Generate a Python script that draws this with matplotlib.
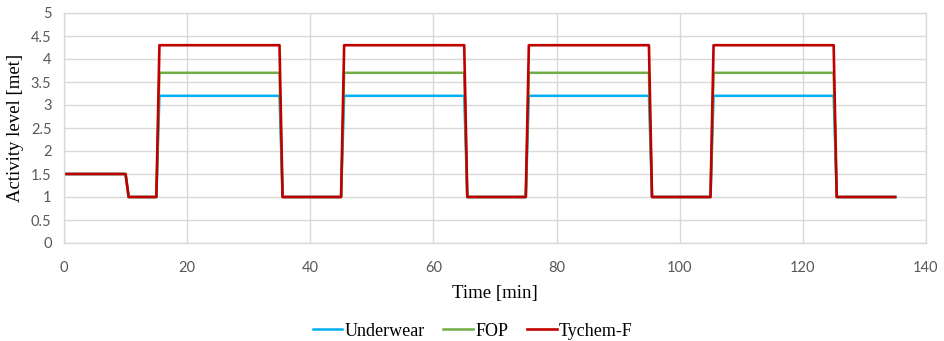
import matplotlib
matplotlib.use("Agg")
import matplotlib.pyplot as plt

# 時間 [min] と各服装の活動レベル [met]
time_min = [0, 10, 10.5, 15, 15.5, 35, 35.5, 45, 45.5, 65, 65.5, 75, 75.5,
            95, 95.5, 105, 105.5, 125, 125.5, 135]
underwear = [1.5, 1.5, 1, 1, 3.2, 3.2, 1, 1, 3.2, 3.2, 1, 1, 3.2,
             3.2, 1, 1, 3.2, 3.2, 1, 1]
fop = [1.5, 1.5, 1, 1, 3.7, 3.7, 1, 1, 3.7, 3.7, 1, 1, 3.7,
       3.7, 1, 1, 3.7, 3.7, 1, 1]
tychem = [1.5, 1.5, 1, 1, 4.3, 4.3, 1, 1, 4.3, 4.3, 1, 1, 4.3,
          4.3, 1, 1, 4.3, 4.3, 1, 1]

x_ticks = [0, 20, 40, 60, 80, 100, 120, 140]
y_ticks = [0, 0.5, 1, 1.5, 2, 2.5, 3, 3.5, 4, 4.5, 5]

serif = "Liberation Serif"
sans = "Lato"
grid_c = "#D9D9D9"
tick_c = "#595959"

fig = plt.figure(figsize=(9.45, 3.41), dpi=100)
ax = fig.add_axes([64 / 945, 98 / 341, 862 / 945, 230 / 341])

ax.plot(time_min, underwear, color="#00B0F0", lw=1.8, label="Underwear")
ax.plot(time_min, fop, color="#70AD47", lw=1.8, label="FOP")
ax.plot(time_min, tychem, color="#C00000", lw=1.9, label="Tychem-F")

ax.set_xlim(0, 140)
ax.set_ylim(0, 5)
ax.set_xticks(x_ticks)
ax.set_yticks(y_ticks)
ax.set_xticklabels([str(v) for v in x_ticks], fontfamily=sans, fontsize=10.5, color=tick_c)
ax.set_yticklabels([f"{v:g}" for v in y_ticks], fontfamily=sans, fontsize=10.5, color=tick_c)
ax.tick_params(axis="x", length=0, pad=13)
ax.tick_params(axis="y", length=0, pad=9)

ax.grid(True, color=grid_c, lw=1)
ax.set_axisbelow(True)
for s in ax.spines.values():
    s.set_color(grid_c)
    s.set_linewidth(1)

ax.set_xlabel("Time [min]", fontfamily=serif, fontsize=13.5, labelpad=7)
ax.set_ylabel("Activity level [met]", fontfamily=serif, fontsize=13.5, labelpad=5)

fig.legend(loc="center", bbox_to_anchor=(0.5, 10 / 341), ncol=3, frameon=False,
           prop={"family": serif, "size": 13}, handlelength=1.65, handletextpad=0.1,
           columnspacing=1.05)

fig.savefig("out.png", dpi=100)
